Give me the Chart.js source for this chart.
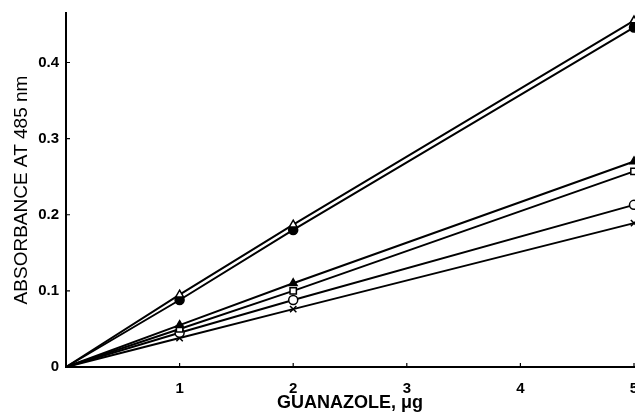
<!DOCTYPE html>
<html>
<head>
<meta charset="utf-8">
<script src="https://cdn.jsdelivr.net/npm/chart.js@4/dist/chart.umd.min.js"></script>
<style>
  html, body { margin: 0; padding: 0; background: #fff; }
  #wrap { width: 635px; height: 415px; }
</style>
</head>
<body>
<div id="wrap"><canvas id="chart" width="635" height="415"></canvas></div>
<script>
// guanazole amount (ug)
const doses = [0, 1, 2, 5];

// absorbance at 485 nm
const openTriangle = [0, 0.095, 0.187, 0.455];
const filledCircle = [0, 0.088, 0.180, 0.446];
const filledTriangle = [0, 0.055, 0.110, 0.270];
const openSquare = [0, 0.050, 0.100, 0.257];
const openCircle = [0, 0.045, 0.088, 0.213];
const cross = [0, 0.038, 0.076, 0.189];

const xTicks = [1, 2, 3, 4, 5];
const yTicks = [0, 0.1, 0.2, 0.3, 0.4];

function pts(vals) {
    return vals.map((v, i) => ({ x: doses[i], y: v }));
}

function series(vals, style, fill) {
    return {
        data: pts(vals),
        borderColor: '#000',
        borderWidth: 2,
        pointStyle: style,
        pointRadius: c => c.dataIndex === 0 ? 0 : 4.5,
        pointBorderWidth: 1.5,
        pointBackgroundColor: fill,
        pointBorderColor: '#000',
        tension: 0,
        clip: false
    };
}

// small inward ticks like the printed figure
const innerTicks = {
    id: 'innerTicks',
    afterDraw(chart) {
        const ctx = chart.ctx;
        const xs = chart.scales.x, ys = chart.scales.y;
        ctx.save();
        ctx.strokeStyle = '#000';
        ctx.lineWidth = 1.2;
        ctx.beginPath();
        xTicks.forEach(t => {
            const px = xs.getPixelForValue(t);
            ctx.moveTo(px, ys.bottom);
            ctx.lineTo(px, ys.bottom - 4);
        });
        yTicks.forEach(t => {
            const py = ys.getPixelForValue(t);
            ctx.moveTo(xs.left, py);
            ctx.lineTo(xs.left + 4, py);
        });
        ctx.stroke();
        ctx.restore();
    }
};

const tickFont = { family: 'Liberation Sans', size: 15, weight: 'bold' };

new Chart(document.getElementById('chart'), {
    type: 'line',
    data: {
        datasets: [
            series(openTriangle, 'triangle', '#fff'),
            series(filledCircle, 'circle', '#000'),
            series(filledTriangle, 'triangle', '#000'),
            series(openSquare, 'rect', '#fff'),
            series(openCircle, 'circle', '#fff'),
            series(cross, 'crossRot', '#000')
        ]
    },
    options: {
        responsive: false,
        animation: false,
        layout: { autoPadding: false, padding: { top: 13, right: 1, left: 0, bottom: 0 } },
        plugins: { legend: { display: false }, tooltip: { enabled: false } },
        scales: {
            x: {
                type: 'linear',
                min: 0,
                max: 5,
                afterFit(scale) { scale.height = 48; scale.paddingRight = 0; scale.paddingLeft = 0; },
                afterBuildTicks(scale) { scale.ticks = xTicks.map(v => ({ value: v })); },
                border: { color: '#000', width: 2 },
                grid: { display: false, drawTicks: false },
                ticks: {
                    color: '#000',
                    font: tickFont,
                    padding: 13,
                    maxRotation: 0,
                    callback: v => String(v)
                },
                title: {
                    display: true,
                    text: 'GUANAZOLE, \u03bcg',
                    color: '#000',
                    font: { family: 'Liberation Sans', size: 18, weight: 'bold' },
                    padding: { top: 0, bottom: 1 }
                }
            },
            y: {
                type: 'linear',
                min: 0,
                max: 0.465,
                afterFit(scale) { scale.width = 66; scale.paddingTop = 0; scale.paddingBottom = 0; },
                afterBuildTicks(scale) { scale.ticks = yTicks.map(v => ({ value: v })); },
                border: { color: '#000', width: 2 },
                grid: { display: false, drawTicks: false },
                ticks: {
                    color: '#000',
                    font: tickFont,
                    padding: 7,
                    callback: v => v === 0 ? '0' : v.toFixed(1)
                },
                title: {
                    display: true,
                    text: 'ABSORBANCE AT 485 nm',
                    color: '#000',
                    font: { family: 'Liberation Sans', size: 19, weight: 'normal' },
                    padding: { top: 10, bottom: 0 }
                }
            }
        }
    },
    plugins: [innerTicks]
});
</script>
</body>
</html>
